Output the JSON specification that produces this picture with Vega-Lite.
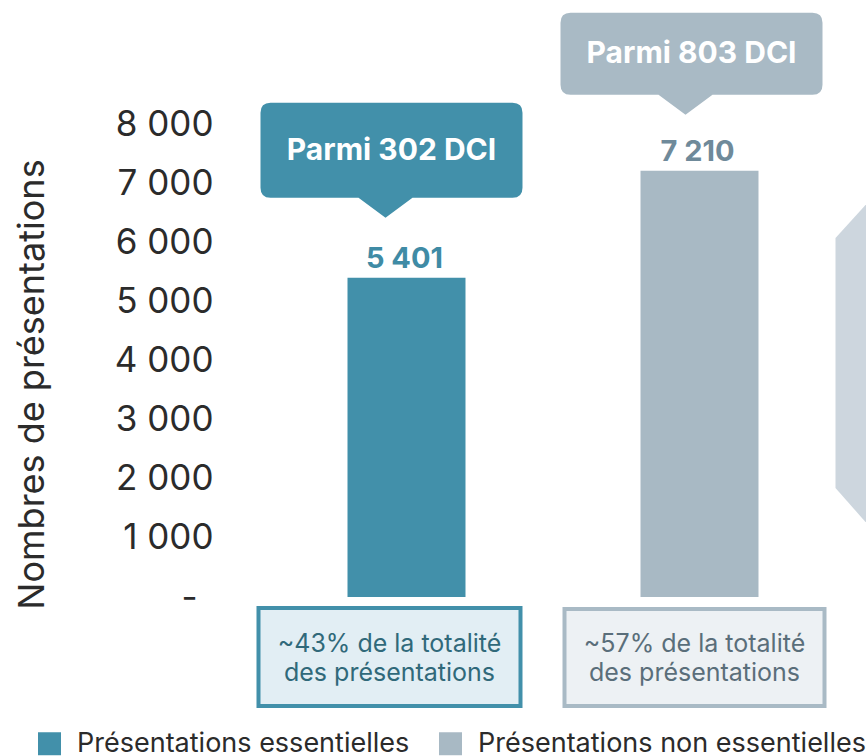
{
  "$schema": "https://vega.github.io/schema/vega-lite/v6.json",
  "width": 626,
  "height": 473,
  "autosize": {"type": "none"},
  "padding": {"left": 240, "top": 124, "right": 0, "bottom": 159},
  "background": "white",
  "config": {
    "view": {"stroke": null},
    "font": "Inter",
    "locale": {"number": {"decimal": ",", "thousands": " ", "grouping": [3], "currency": ["", " €"]}},
    "legend": {
      "orient": "none", "legendX": -204, "legendY": 606, "direction": "horizontal",
      "symbolType": "square", "symbolSize": 529, "symbolStrokeWidth": 0,
      "labelFontSize": 27, "labelColor": "#2b2b2b", "labelOffset": 14, "columnPadding": 27, "labelLimit": 600
    }
  },
  "data": {"values": [
    {"categorie": "Présentations essentielles", "valeur": 5401, "dci": "Parmi 302 DCI", "part": "~43% de la totalité\ndes présentations"},
    {"categorie": "Présentations non essentielles", "valeur": 7210, "dci": "Parmi 803 DCI", "part": "~57% de la totalité\ndes présentations"}
  ]},
  "encoding": {
    "x": {"field": "categorie", "type": "nominal", "axis": null,
          "scale": {"domain": ["Présentations essentielles", "Présentations non essentielles"], "paddingInner": 0.5973, "paddingOuter": 0.3669}},
    "y": {"field": "valeur", "type": "quantitative",
          "scale": {"domain": [0, 8000], "nice": false},
          "axis": {
            "title": "Nombres de présentations",
            "values": [0, 1000, 2000, 3000, 4000, 5000, 6000, 7000, 8000],
            "format": ",d",
            "labelExpr": "datum.value === 0 ? '-' : datum.label",
            "domain": false, "ticks": false, "grid": false,
            "labelPadding": {"condition": {"test": "datum.value === 0", "value": 43}, "value": 27},
            "labelFontSize": 35, "labelColor": "#2b2b2b", "labelFontWeight": "normal",
            "titleFontSize": 36, "titleFontWeight": "normal", "titleColor": "#2b2b2b",
            "titleAngle": -90, "titleX": -197, "titleY": 260, "titleBaseline": "alphabetic", "titleAlign": "center"
          }}
  },
  "layer": [
    {
      "transform": [{"filter": "datum.categorie === 'Présentations non essentielles'"}],
      "mark": {"type": "point", "filled": true, "opacity": 1, "size": 4, "strokeWidth": 0, "color": "#CDD6DE",
               "shape": "M136,-359 L166,-392 L420,-392 L420,-75 L166,-75 L136,-109 Z"},
      "encoding": {"y": {"datum": 0}}
    },
    {
      "mark": {"type": "bar"},
      "encoding": {
        "color": {"field": "categorie", "type": "nominal",
                  "scale": {"domain": ["Présentations essentielles", "Présentations non essentielles"], "range": ["#4290AA", "#A8B9C4"]},
                  "legend": {"title": null}}
      }
    },
    {
      "mark": {"type": "text", "baseline": "alphabetic", "dy": -10, "dx": -2, "fontSize": 29, "fontWeight": "bold"},
      "encoding": {
        "text": {"field": "valeur", "type": "quantitative", "format": ",d"},
        "color": {"condition": {"test": "datum.categorie === 'Présentations essentielles'", "value": "#3F8BA5"}, "value": "#6F8A9A"}
      }
    },
    {
      "transform": [{"filter": "datum.categorie === 'Présentations essentielles'"}],
      "mark": {"type": "point", "filled": true, "opacity": 1, "size": 4, "strokeWidth": 0, "color": "#4290AA",
               "shape": "M-136,-175 L106,-175 Q116,-175 116,-165 L116,-90 Q116,-80 106,-80 L6,-80 L-21,-60 L-48,-80 L-136,-80 Q-146,-80 -146,-90 L-146,-165 Q-146,-175 -136,-175 Z"}
    },
    {
      "transform": [{"filter": "datum.categorie === 'Présentations non essentielles'"}],
      "mark": {"type": "point", "filled": true, "opacity": 1, "size": 4, "strokeWidth": 0, "color": "#A9BAC5",
               "shape": "M-129,-158 L113,-158 Q123,-158 123,-148 L123,-86 Q123,-76 113,-76 L13,-76 L-14,-56 L-41,-76 L-129,-76 Q-139,-76 -139,-86 L-139,-148 Q-139,-158 -129,-158 Z"}
    },
    {
      "transform": [{"filter": "datum.categorie === 'Présentations essentielles'"}],
      "mark": {"type": "text", "baseline": "middle", "dx": -15, "dy": -127, "fontSize": 30, "fontWeight": "bold", "color": "#ffffff"},
      "encoding": {"text": {"field": "dci"}}
    },
    {
      "transform": [{"filter": "datum.categorie === 'Présentations non essentielles'"}],
      "mark": {"type": "text", "baseline": "middle", "dx": -8, "dy": -116.5, "fontSize": 30, "fontWeight": "bold", "color": "#ffffff"},
      "encoding": {"text": {"field": "dci"}}
    },
    {
      "transform": [{"filter": "datum.categorie === 'Présentations essentielles'"}],
      "mark": {"type": "point", "filled": true, "opacity": 1, "size": 4, "strokeWidth": 4, "fill": "#E2EEF4", "stroke": "#4290AA",
               "shape": "M-148,11 L114,11 L114,109 L-148,109 Z"},
      "encoding": {"y": {"datum": 0}}
    },
    {
      "transform": [{"filter": "datum.categorie === 'Présentations non essentielles'"}],
      "mark": {"type": "point", "filled": true, "opacity": 1, "size": 4, "strokeWidth": 4, "fill": "#EDF1F4", "stroke": "#A9BAC5",
               "shape": "M-135,12 L125,12 L125,109 L-135,109 Z"},
      "encoding": {"y": {"datum": 0}}
    },
    {
      "transform": [{"filter": "datum.categorie === 'Présentations essentielles'"}],
      "mark": {"type": "text", "baseline": "middle", "lineBreak": "\n", "lineHeight": 29, "dx": -17, "dy": 47, "fontSize": 25, "color": "#30697A"},
      "encoding": {"y": {"datum": 0}, "text": {"field": "part"}}
    },
    {
      "transform": [{"filter": "datum.categorie === 'Présentations non essentielles'"}],
      "mark": {"type": "text", "baseline": "middle", "lineBreak": "\n", "lineHeight": 29, "dx": -5, "dy": 47, "fontSize": 25, "color": "#5A6E7A"},
      "encoding": {"y": {"datum": 0}, "text": {"field": "part"}}
    }
  ]
}
